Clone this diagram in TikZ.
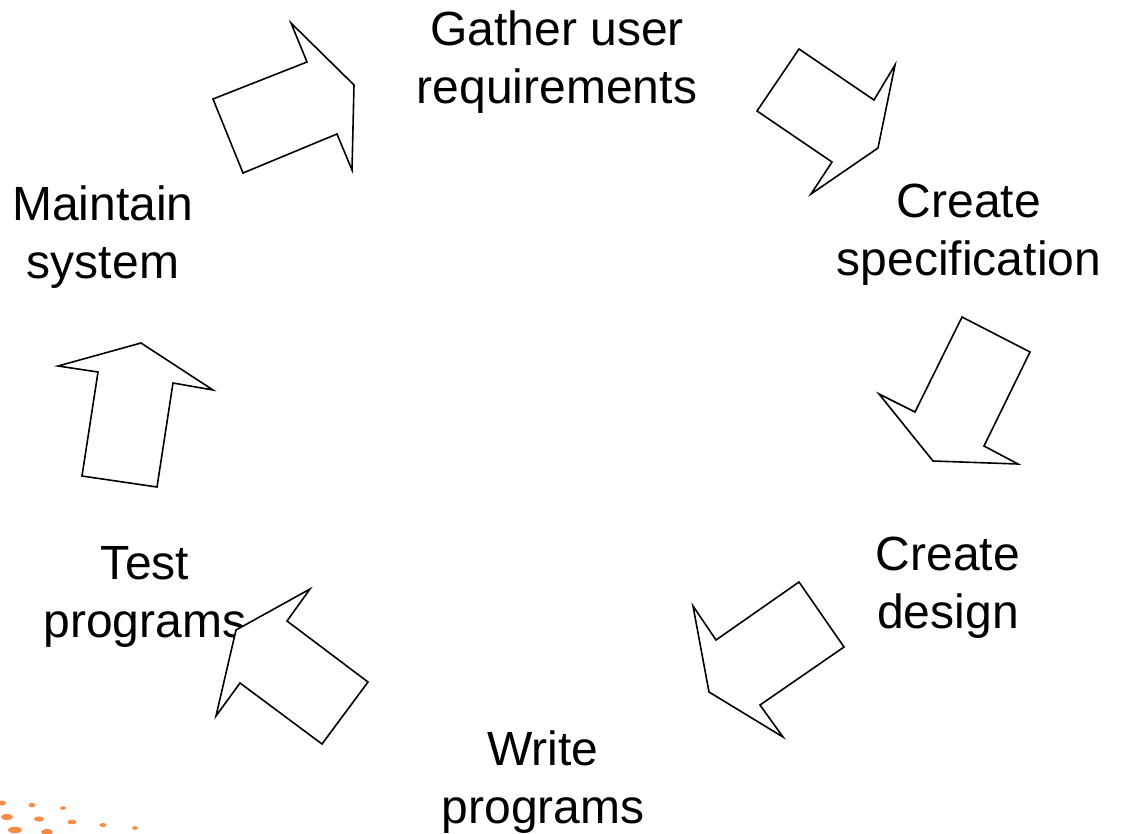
\documentclass[tikz,border=0pt]{standalone}
\usepackage{fontspec}
\setmainfont{Liberation Sans}
\begin{document}
\begin{tikzpicture}[x=1pt,y=-1pt,
  label/.style={align=center,anchor=base,inner sep=0pt,
    font=\fontsize{48}{58}\selectfont},
  flowarrow/.style={draw=black,line width=1.6pt,line join=miter,fill=white},
  speck/.style={fill={rgb,255:red,244;green,121;blue,38},draw=none,opacity=0.85}]
\useasboundingbox (0,0) rectangle (1134,833);

% stage labels (anchored at the baseline of the last line)
\node[label] (gather) at (557,103) {Gather user\\requirements};
\node[label] (spec) at (969,275) {Create\\specification};
\node[label] (design) at (948,628) {Create\\design};
\node[label] (write) at (543,823) {Write\\programs};
\node[label] (test) at (145,637) {Test\\programs};
\node[label] (maintain) at (103,278) {Maintain\\system};

% block arrows between stages
\draw[flowarrow] (291,23) -- (307,62) -- (213,99) -- (243,173) -- (337,134)
  -- (352,170) -- (354,85) -- cycle;
\draw[flowarrow] (799,49) -- (874,100) -- (895,65) -- (878,148) -- (811,194)
  -- (832,162) -- (757,111) -- cycle;
\draw[flowarrow] (962,317) -- (1030,352) -- (984,446) -- (1018,464) -- (933,461)
  -- (879,394) -- (915,412) -- cycle;
\draw[flowarrow] (799,582) -- (844,647) -- (760,705) -- (783,737) -- (709,692)
  -- (693,606) -- (716,640) -- cycle;
\draw[flowarrow] (310,589) -- (287,621) -- (368,682) -- (322,744) -- (240,683)
  -- (216,716) -- (236,630) -- cycle;
\draw[flowarrow] (141,343) -- (213,390) -- (173,383) -- (157,487) -- (82,476)
  -- (98,372) -- (58,366) -- cycle;

% faded logo specks
\foreach \px/\py/\rx/\ry in {2/803/4/2.5, 32/805/3.5/2.2, 63/808/3/1.8,
  7/817/6/3, 39/819/5/2.6, 72/822/4.5/2.4, 103/825/3.5/2, 135/828/3/1.8,
  15/830/7/3.2, 47/832/6/3}
  \fill[speck] (\px,\py) ellipse [x radius=\rx, y radius=\ry];
\end{tikzpicture}
\end{document}
